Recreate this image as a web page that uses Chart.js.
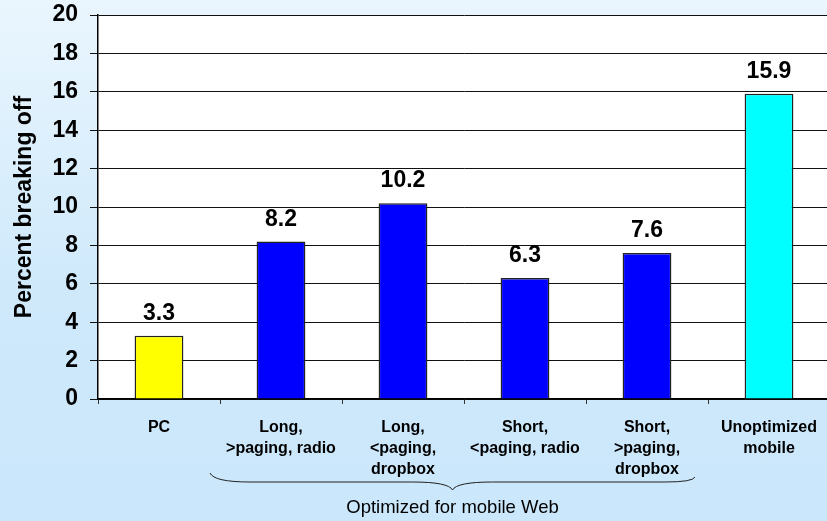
<!DOCTYPE html>
<html>
<head>
<meta charset="utf-8">
<script src="https://cdn.jsdelivr.net/npm/chart.js@4/dist/chart.umd.min.js"></script>
<style>
  html, body { margin: 0; padding: 0; overflow: hidden; width: 827px; height: 521px; }
  body { background: linear-gradient(180deg, #eaf6fe 0%, #cfe9fb 55%, #cbe7fb 100%); }
  canvas { display: block; }
</style>
</head>
<body>
<canvas id="c" width="832" height="521"></canvas>
<script>
// Break-off rates by survey version
const categories = [
  ['PC'],
  ['Long,', '>paging, radio'],
  ['Long,', '<paging,', 'dropbox'],
  ['Short,', '<paging, radio'],
  ['Short,', '>paging,', 'dropbox'],
  ['Unoptimized', 'mobile']
];
const breakoffPercent = [3.3, 8.2, 10.2, 6.3, 7.6, 15.9];
const barColors = ['#ffff00', '#0000ff', '#0000ff', '#0000ff', '#0000ff', '#00ffff'];
const yTicks = [0, 2, 4, 6, 8, 10, 12, 14, 16, 18, 20];
const groupLabel = 'Optimized for mobile Web';
const groupFirst = 1, groupLast = 4;

const FONT = '"Liberation Sans", Arial, sans-serif';

const plotBackground = {
  id: 'plotBackground',
  beforeDraw(chart) {
    const { ctx, chartArea: a } = chart;
    ctx.save();
    ctx.fillStyle = '#ffffff';
    ctx.fillRect(a.left, a.top, a.right - a.left, a.bottom - a.top);
    ctx.restore();
  }
};

const valueLabels = {
  id: 'valueLabels',
  afterDatasetsDraw(chart) {
    const { ctx } = chart;
    const meta = chart.getDatasetMeta(0);
    ctx.save();
    ctx.font = 'bold 23px ' + FONT;
    ctx.fillStyle = '#000';
    ctx.textAlign = 'center';
    ctx.textBaseline = 'alphabetic';
    meta.data.forEach((bar, i) => {
      ctx.fillText(breakoffPercent[i].toFixed(1), bar.x, bar.y - 16);
    });
    ctx.restore();
  }
};

// Curly brace grouping the mobile-optimized versions
const groupBrace = {
  id: 'groupBrace',
  afterDraw(chart) {
    const { ctx } = chart;
    const x = chart.scales.x;
    const half = (x.getPixelForValue(1) - x.getPixelForValue(0)) / 2;
    const x0 = x.getPixelForValue(groupFirst) - half - 10;
    const x1 = x.getPixelForValue(groupLast) + half - 13;
    const xm = (x0 + x1) / 2;
    const yTop = 473, yMid = 482, yTip = 490;
    ctx.save();
    ctx.strokeStyle = '#222';
    ctx.lineWidth = 1;
    ctx.beginPath();
    ctx.moveTo(x0, yTop);
    ctx.quadraticCurveTo(x0 + 4, yMid, x0 + 40, yMid);
    ctx.lineTo(xm - 40, yMid);
    ctx.quadraticCurveTo(xm - 4, yMid, xm, yTip);
    ctx.quadraticCurveTo(xm + 4, yMid, xm + 40, yMid);
    ctx.lineTo(x1 - 30, yMid);
    ctx.quadraticCurveTo(x1 - 2, yMid, x1, yTop + 4);
    ctx.stroke();
    ctx.font = '18.5px ' + FONT;
    ctx.fillStyle = '#000';
    ctx.textAlign = 'center';
    ctx.textBaseline = 'middle';
    ctx.fillText(groupLabel, xm, 508);
    ctx.restore();
  }
};

new Chart(document.getElementById('c'), {
  type: 'bar',
  data: {
    labels: categories,
    datasets: [{
      data: breakoffPercent,
      backgroundColor: barColors,
      borderColor: '#222222',
      borderWidth: 1.5,
      categoryPercentage: 0.4,
      barPercentage: 1.0
    }]
  },
  options: {
    responsive: false,
    animation: false,
    layout: { padding: { top: 15, left: 0, right: 2, bottom: 0 } },
    plugins: { legend: { display: false }, tooltip: { enabled: false } },
    scales: {
      y: {
        min: 0, max: 20,
        afterBuildTicks(s) { s.ticks = yTicks.map(v => ({ value: v })); },
        afterFit(s) { s.width = 98; s.paddingTop = 0; s.paddingBottom = 0; },
        ticks: {
          color: '#000',
          padding: 12,
          font: { family: FONT, size: 23, weight: 'bold' }
        },
        grid: { color: '#111', lineWidth: 1, tickLength: 8, drawTicks: true },
        border: { color: '#000', width: 1.5 },
        title: {
          display: true,
          text: 'Percent breaking off',
          color: '#000',
          padding: { top: 11, bottom: 0 },
          font: { family: FONT, size: 23, weight: 'bold' }
        }
      },
      x: {
        afterFit(s) { s.height = 122; s.paddingLeft = 0; s.paddingRight = 0; },
        ticks: {
          color: '#000',
          padding: 13,
          maxRotation: 0,
          autoSkip: false,
          font: { family: FONT, size: 16, weight: 'bold', lineHeight: 1.32 }
        },
        grid: { drawOnChartArea: false, color: '#333', tickLength: 5, offset: true },
        border: { color: '#000', width: 1.5 }
      }
    }
  },
  plugins: [plotBackground, valueLabels, groupBrace]
});
</script>
</body>
</html>
